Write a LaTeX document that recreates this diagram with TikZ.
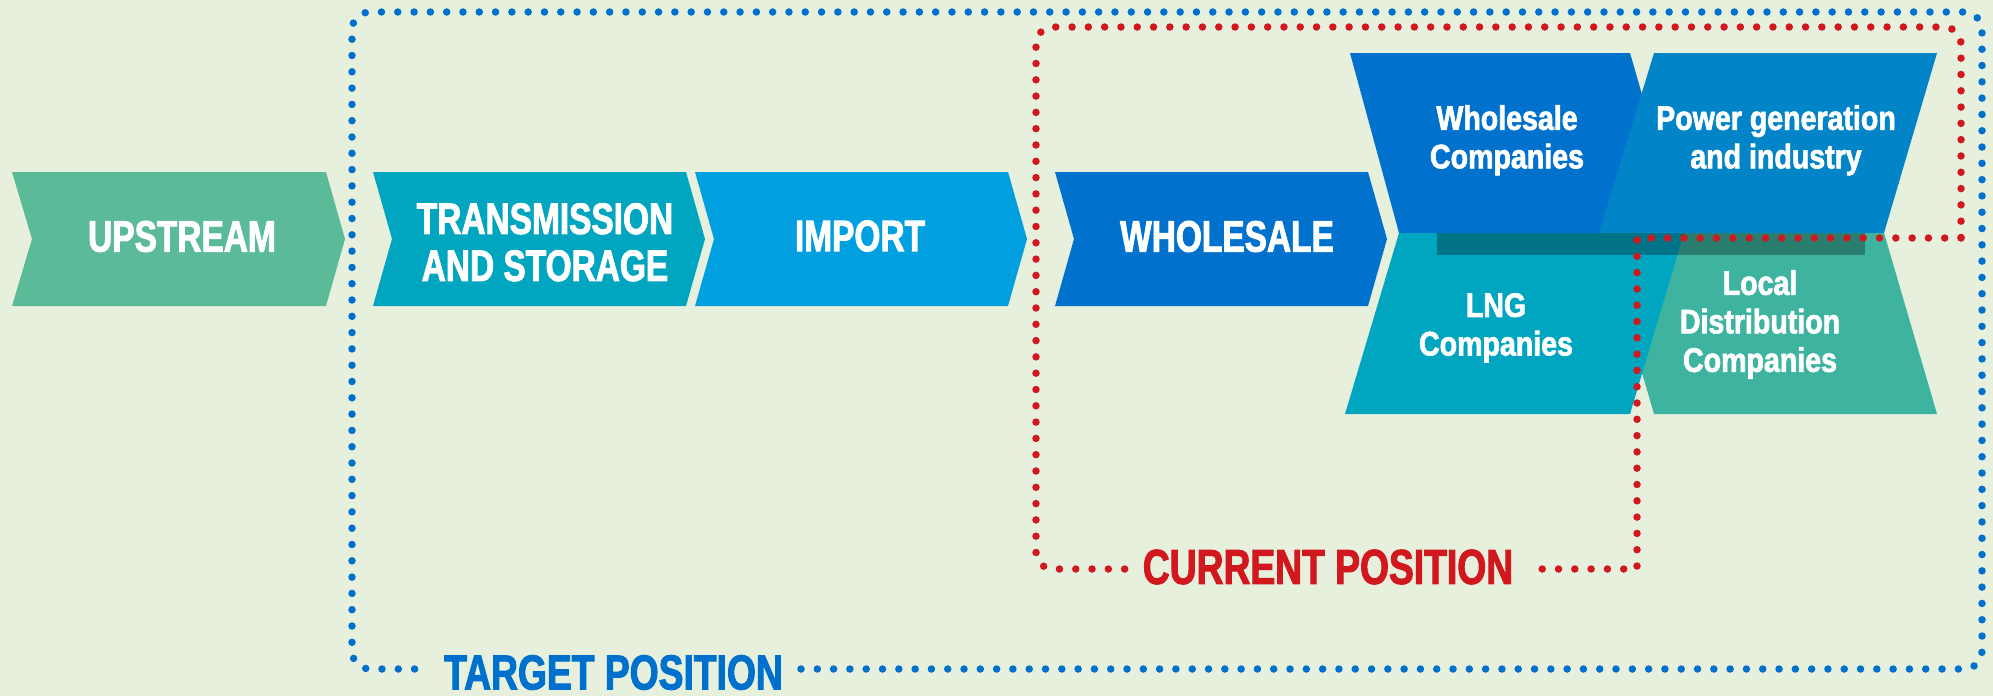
\documentclass[tikz,border=0pt]{standalone}
\usepackage{fontspec}
\newfontfamily\capsfont{Liberation Sans}[FakeStretch=0.76, FakeBold=2]
\newfontfamily\boxfont{Liberation Sans}[FakeStretch=0.84, FakeBold=2]
\definecolor{bgcol}{RGB}{231,240,221}
\definecolor{upcol}{RGB}{91,186,151}
\definecolor{trscol}{RGB}{0,166,192}
\definecolor{impcol}{RGB}{0,159,224}
\definecolor{whlcol}{RGB}{0,114,206}
\definecolor{pgcol}{RGB}{2,132,200}
\definecolor{ldcol}{RGB}{62,180,160}
\definecolor{redcol}{RGB}{208,24,30}
\definecolor{bluecol}{RGB}{0,112,205}
\tikzstyle{chevtext}=[text=white, inner sep=0pt, align=center, font=\capsfont\bfseries\fontsize{44}{47}\selectfont]
\tikzstyle{boxtext}=[text=white, inner sep=0pt, align=center, anchor=north, font=\boxfont\bfseries\fontsize{34}{38.5}\selectfont]
\tikzstyle{postext}=[inner xsep=18pt, inner ysep=0pt, font=\capsfont\bfseries\fontsize{49}{50}\selectfont]
\tikzstyle{dotline}=[line width=7.5pt, line cap=round, dash pattern=on 0pt off 16.3pt]

\begin{document}
\begin{tikzpicture}[x=1pt, y=-1pt]
    \useasboundingbox (0,0) rectangle (1993,696);
    \fill[bgcol] (0,0) rectangle (1993,696);
% Value chain
    \fill[upcol] (12,172) -- (326,172) -- (345,239) -- (326,306) -- (12,306) -- (32,239) -- cycle;
    \fill[trscol] (373,172) -- (686,172) -- (705,239) -- (686,306) -- (373,306) -- (392,239) -- cycle;
    \fill[impcol] (695,172) -- (1008,172) -- (1027,239) -- (1008,306) -- (695,306) -- (714,239) -- cycle;
    \fill[whlcol] (1055,172) -- (1368,172) -- (1387,239) -- (1368,306) -- (1055,306) -- (1074,239) -- cycle;
    \node[chevtext] (up) at (182,236.5) {UPSTREAM};
    \node[chevtext, anchor=north] (trs) at (545,203) {TRANSMISSION\\AND STORAGE};
    \node[chevtext] (imp) at (860,236) {IMPORT};
    \node[chevtext] (whl) at (1227,236.5) {WHOLESALE};
% Companies
    \fill[whlcol] (1350,53) -- (1630,53) -- (1682,233) -- (1399,233) -- cycle;
    \fill[pgcol] (1654,53) -- (1937,53) -- (1884,233) -- (1599,233) -- cycle;
    \fill[ldcol] (1601,233) -- (1884,233) -- (1937,414) -- (1654,414) -- cycle;
    \fill[trscol] (1399,233) -- (1684,233) -- (1630,414) -- (1345,414) -- cycle;
    \fill[black, opacity=0.3] (1437,233) rectangle (1865,255);
    \node[boxtext] (wc) at (1507,105) {Wholesale\\Companies};
    \node[boxtext] (pg) at (1776,105) {Power generation\\and industry};
    \node[boxtext] (lng) at (1496,293) {LNG\\Companies};
    \node[boxtext] (ldc) at (1760,270) {Local\\Distribution\\Companies};
% Positions
    \node[postext, text=redcol] (crt) at (1328,567) {CURRENT POSITION};
    \node[postext, text=bluecol] (tgt) at (613.5,672.5) {TARGET POSITION};
    \draw[dotline, bluecol, rounded corners=18pt] (tgt.east |- 0,669) -- (1982,669) -- (1982,12) -- (352,12) -- (352,669) -- (tgt.west |- 0,669);
    \draw[dotline, redcol, rounded corners=17pt] (crt.west |- 0,569) -- (1036,569) -- (1036,27) -- (1961,27) -- (1961,238);
    \draw[dotline, redcol] (1961,238) -- (1637,238) -- (1637,569) -- (crt.east |- 0,569);
\end{tikzpicture}
\end{document}
